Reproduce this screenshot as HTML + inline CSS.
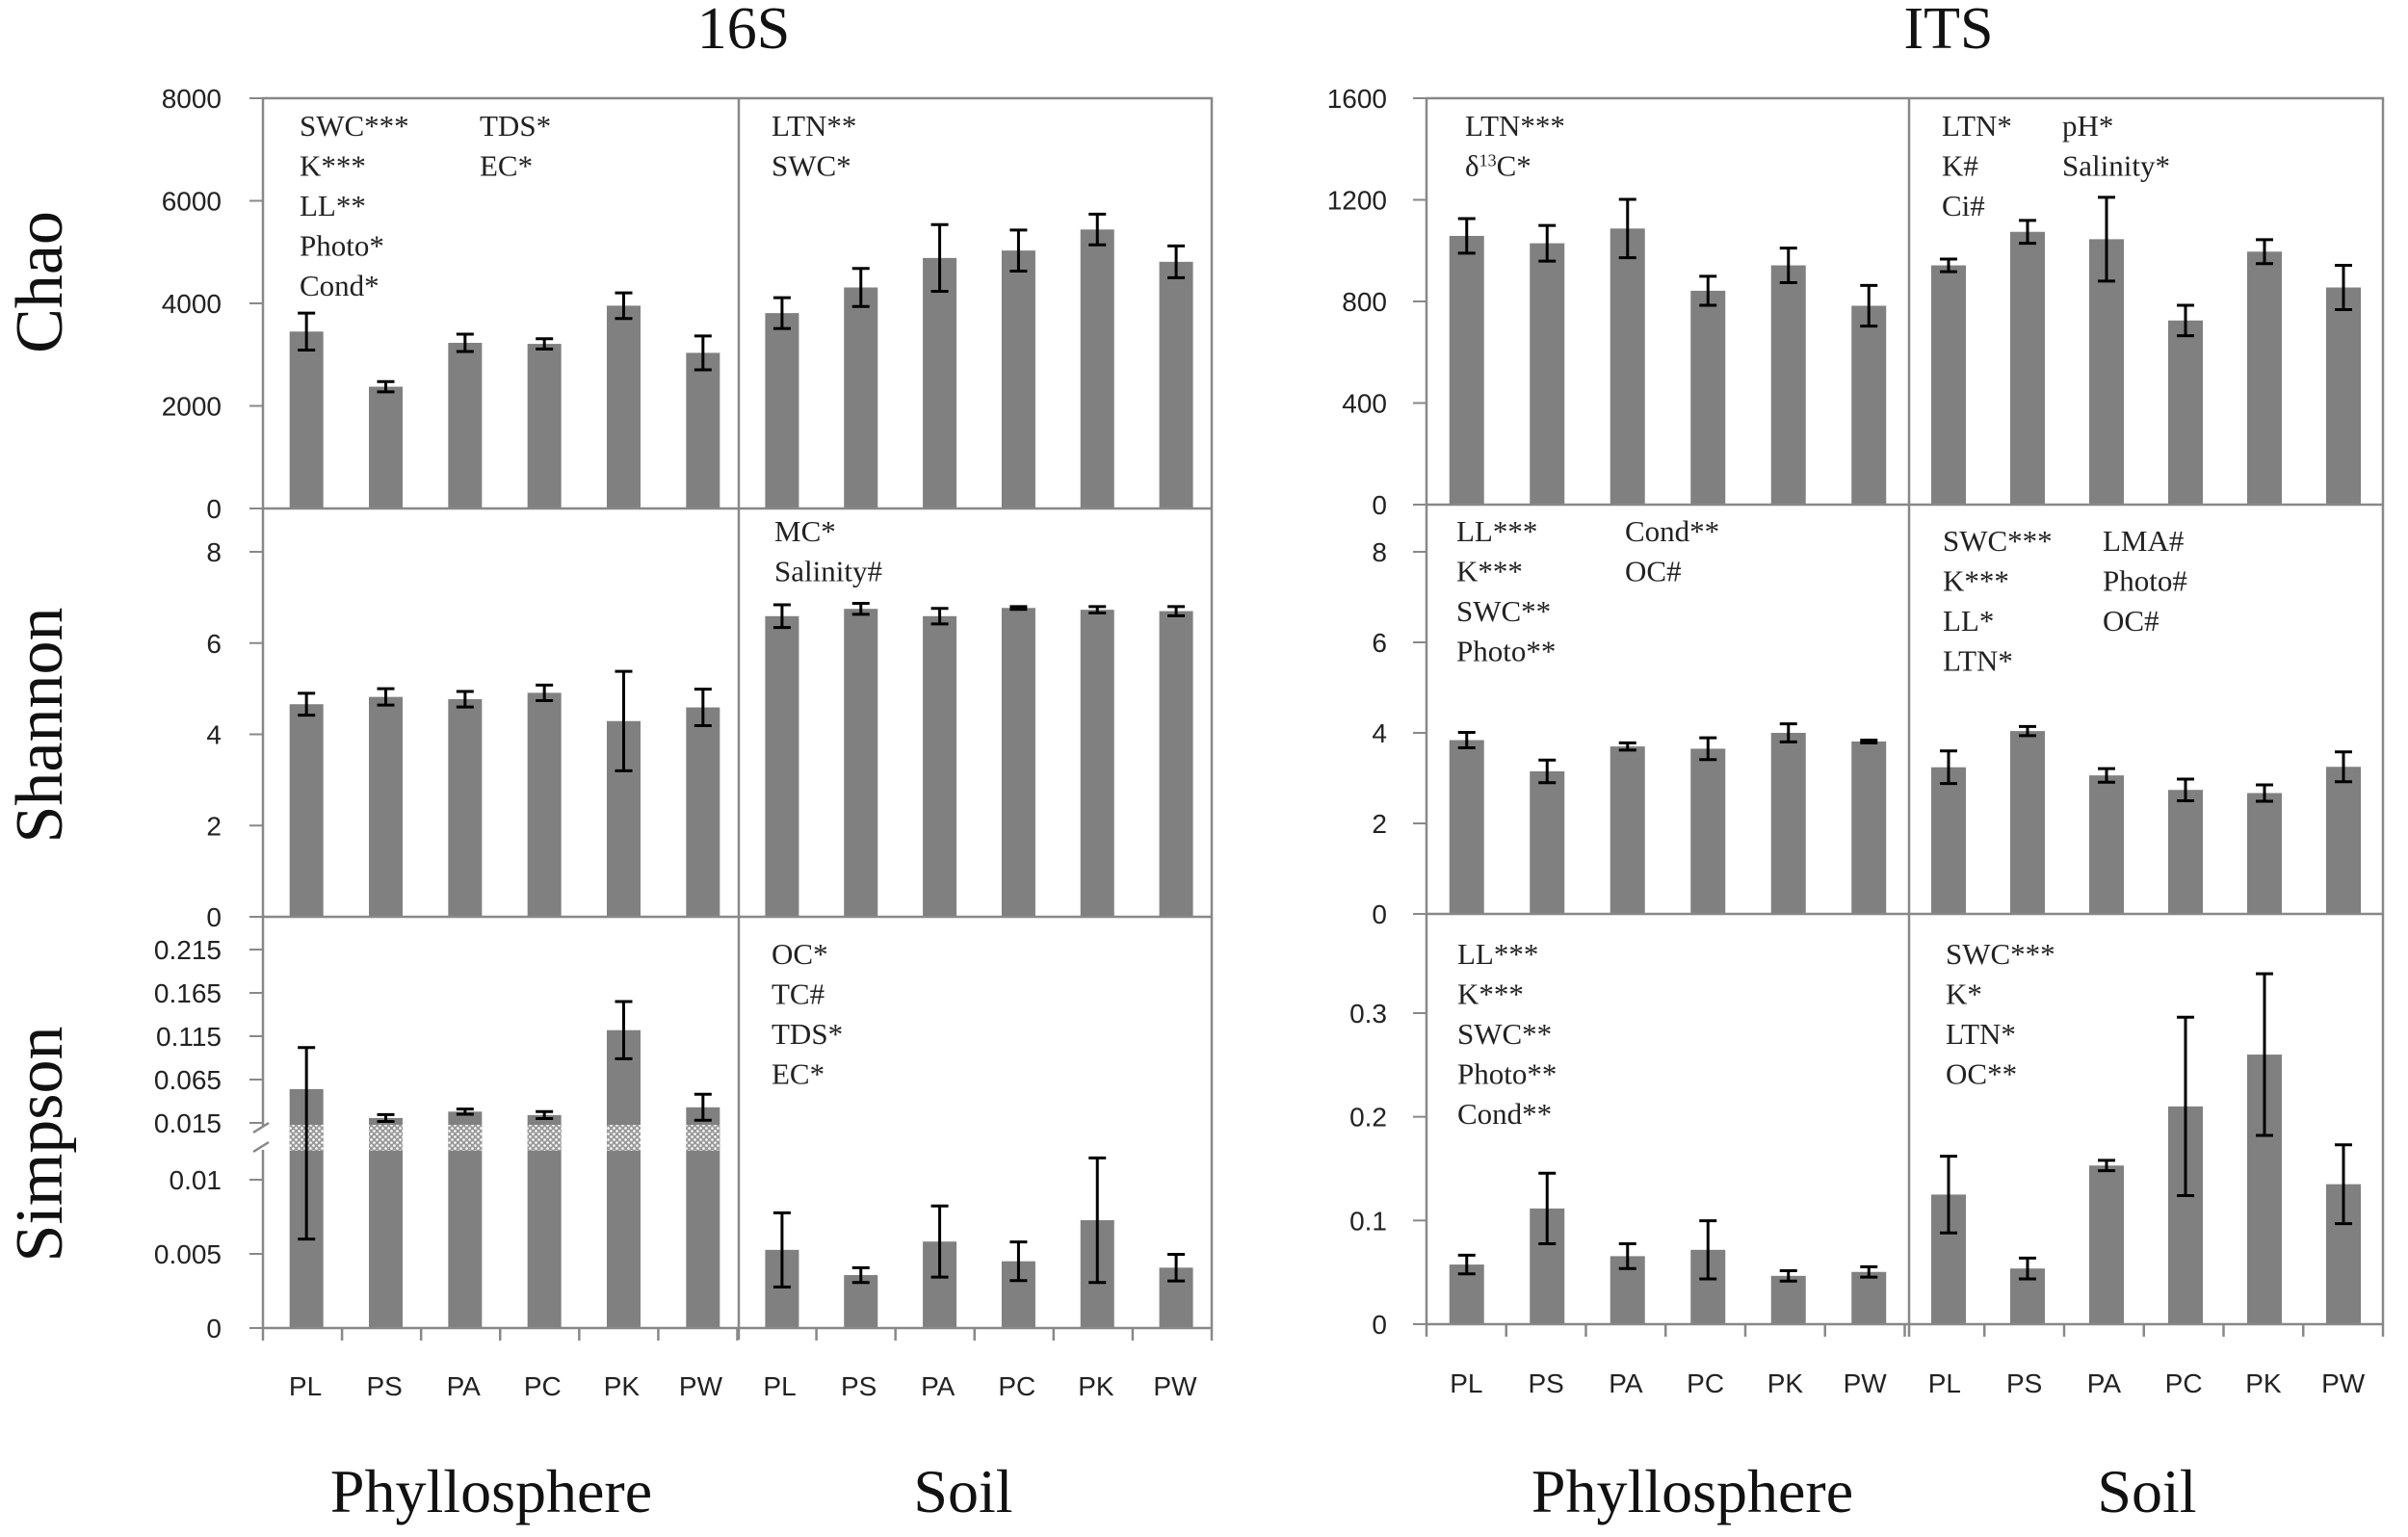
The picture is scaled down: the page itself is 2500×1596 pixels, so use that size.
<!DOCTYPE html>
<html><head><meta charset="utf-8">
<style>
html,body{margin:0;padding:0;background:#fff;}
svg{display:block;}
.tk{font-family:"Liberation Sans",sans-serif;font-size:28px;fill:#222;}
.an{font-family:"Liberation Serif",serif;font-size:31px;fill:#222;}
.big{font-family:"Liberation Serif",serif;fill:#111;}
</style></head>
<body>
<svg id="chart" width="2500" height="1596" viewBox="0 0 2500 1596" xmlns="http://www.w3.org/2000/svg">
<defs>
<pattern id="hatch" width="6" height="6" patternUnits="userSpaceOnUse">
<rect width="6" height="6" fill="#9a9a9a"/>
<circle cx="1.5" cy="1.5" r="1.3" fill="#ffffff"/>
<circle cx="4.5" cy="4.5" r="1.3" fill="#ffffff"/>
</pattern>
</defs>
<g id="root"></g>
</svg>
<script>
const categories = ["PL","PS","PA","PC","PK","PW"];
// 16S
const chao16Phyllo = [3450,2375,3230,3210,3955,3035];
const chao16PhylloErr = [360,100,170,100,250,330];
const chao16Soil = [3810,4310,4885,5030,5440,4810];
const chao16SoilErr = [300,370,650,400,300,310];
const shan16Phyllo = [4.66,4.82,4.77,4.91,4.29,4.59];
const shan16PhylloErr = [0.24,0.18,0.17,0.17,1.09,0.4];
const shan16Soil = [6.59,6.75,6.59,6.77,6.73,6.70];
const shan16SoilErr = [0.25,0.12,0.17,0.03,0.07,0.1];
const simp16Phyllo = [0.054,0.0206,0.028,0.024,0.122,0.033];
const simp16PhylloErr = [0.048,0.004,0.003,0.004,0.033,0.015];
const simp16Soil = [0.00527,0.00357,0.00583,0.0045,0.00727,0.00407];
const simp16SoilErr = [0.0025,0.0005,0.0024,0.0013,0.0042,0.0009];
// ITS
const chaoITSPhyllo = [1058,1029,1087,842,942,783];
const chaoITSPhylloErr = [68,70,115,57,68,80];
const chaoITSSoil = [942,1074,1045,725,996,855];
const chaoITSSoilErr = [25,45,165,60,47,87];
const shanITSPhyllo = [3.84,3.15,3.7,3.65,4.0,3.81];
const shanITSPhylloErr = [0.17,0.25,0.08,0.24,0.2,0.03];
const shanITSSoil = [3.24,4.04,3.06,2.74,2.67,3.25];
const shanITSSoilErr = [0.36,0.1,0.15,0.24,0.18,0.33];
const simpITSPhyllo = [0.0575,0.1116,0.0656,0.0717,0.0466,0.0504];
const simpITSPhylloErr = [0.009,0.034,0.012,0.028,0.005,0.005];
const simpITSSoil = [0.125,0.0537,0.153,0.21,0.26,0.135];
const simpITSSoilErr = [0.037,0.01,0.005,0.086,0.078,0.038];
// tick labels
const chao16Ticks = [0,2000,4000,6000,8000];
const shanTicks = [0,2,4,6,8];
const simp16UpperTicks = ["0.015","0.065","0.115","0.165","0.215"];
const simp16LowerTicks = ["0","0.005","0.01"];
const chaoITSTicks = [0,400,800,1200,1600];
const simpITSTicks = ["0","0.1","0.2","0.3"];

const NS="http://www.w3.org/2000/svg";
const root=document.getElementById('root');
function mk(tag,attrs,parent){const e=document.createElementNS(NS,tag);for(const k in attrs)e.setAttribute(k,attrs[k]);(parent||root).appendChild(e);return e;}

function lin(v0,y0,v1,y1){return v=>y0+(v-v0)*(y1-y0)/(v1-v0);}
function simp16Y(v){return v<=0.0125 ? 1379 - v*15400 : 1166 - (v-0.015)*900;}

function drawBars(x0,pw,off,bw,vals,errs,yf,yZero,hatch,prefix){
  const gw=pw/6;
  for(let i=0;i<vals.length;i++){
    const cx=x0+gw*(i+0.5)+off;
    const yt=yf(vals[i]);
    const b=mk('rect',{x:cx-bw/2,y:yt,width:bw,height:yZero-yt,fill:'#808080'});
    
    
    if(hatch){
      const h=mk('rect',{x:cx-bw/2,y:1168,width:bw,height:27,fill:'url(#hatch)'});
      
      
    }
    const yh=yf(vals[i]+errs[i]), yl=yf(Math.max(0,vals[i]-errs[i]));
    const g=mk('g',{stroke:'#000','stroke-width':3});
    
    
    mk('line',{x1:cx,y1:yh,x2:cx,y2:yl},g);
    mk('line',{x1:cx-9,y1:yh,x2:cx+9,y2:yh},g);
    mk('line',{x1:cx-9,y1:yl,x2:cx+9,y2:yl},g);
  }
}
function yTicks(axX,labels,yf,labelX){
  labels.forEach(l=>{
    const y=yf(parseFloat(l));
    mk('line',{x1:axX-14,y1:y,x2:axX,y2:y,stroke:'#888','stroke-width':2});
    const t=mk('text',{x:labelX,y:y+10,'text-anchor':'end',class:'tk'});
    t.textContent=l;
    
    
  });
}
function annot(x,y,lines){
  lines.forEach((s,i)=>{
    const t=mk('text',{x:x,y:y+i*41.5,class:'an'});
    t.textContent=s;
    
    
  });
}
function bigText(x,y,s,size,name,rot){
  const t=mk('text',{x:x,y:y,'text-anchor':'middle',class:'big','font-size':size});
  if(rot){t.setAttribute('transform','rotate(-90 '+x+' '+y+')');}
  t.textContent=s;
  
  
}

// ================= 16S =================
(function(){
  const L=273,M=767,R=1258,pw=494;
  const chY=lin(0,528,8000,102), shY=lin(0,952,8,573);
  drawBars(L,pw,4,35,chao16Phyllo,chao16PhylloErr,chY,528,false,'16s-chao-phyllo');
  drawBars(M,pw-3,4,35,chao16Soil,chao16SoilErr,chY,528,false,'16s-chao-soil');
  drawBars(L,pw,4,35,shan16Phyllo,shan16PhylloErr,shY,952,false,'16s-shannon-phyllo');
  drawBars(M,pw-3,4,35,shan16Soil,shan16SoilErr,shY,952,false,'16s-shannon-soil');
  drawBars(L,pw,4,35,simp16Phyllo,simp16PhylloErr,simp16Y,1379,true,'16s-simpson-phyllo');
  drawBars(M,pw-3,4,35,simp16Soil,simp16SoilErr,simp16Y,1379,false,'16s-simpson-soil');
  const fr=mk('g',{stroke:'#888','stroke-width':2.5,fill:'none'});
  
  
  mk('polyline',{points:`${L},1379 ${L},102 ${R},102 ${R},1379`},fr);
  mk('line',{x1:M,y1:102,x2:M,y2:1391},fr);
  mk('line',{x1:L,y1:528,x2:R,y2:528},fr);
  mk('line',{x1:L,y1:952,x2:R,y2:952},fr);
  mk('line',{x1:L,y1:1379,x2:R,y2:1379},fr);
  for(let i=0;i<=12;i++){const x=L+(R-L)*i/12;mk('line',{x1:x,y1:1379,x2:x,y2:1392},fr);}
  mk('rect',{x:L-8,y:1170,width:16,height:24,fill:'#fff',stroke:'none'});
  mk('line',{x1:L-10,y1:1176,x2:L+6,y2:1166,stroke:'#888','stroke-width':2.5});
  mk('line',{x1:L-10,y1:1196,x2:L+6,y2:1186,stroke:'#888','stroke-width':2.5});
  yTicks(L,chao16Ticks.map(String),chY,230);
  yTicks(L,shanTicks.map(String),shY,230);
  yTicks(L,simp16UpperTicks,simp16Y,230);
  yTicks(L,simp16LowerTicks,simp16Y,230);
  categories.concat(categories).forEach((c,i)=>{
    const t=mk('text',{x:L+(R-L)*(i+0.5)/12+3,y:1449,'text-anchor':'middle',class:'tk','font-size':37});
    t.textContent=c;
    
    
  });
  annot(311,141,["SWC***","K***","LL**","Photo*","Cond*"]);
  annot(498,141,["TDS*","EC*"]);
  annot(801,141,["LTN**","SWC*"]);
  annot(804,562,["MC*","Salinity#"]);
  annot(801,1001,["OC*","TC#","TDS*","EC*"]);
  bigText(772,50,"16S",62,'title-16s');
  bigText(510,1570,"Phyllosphere",64,'x-group-phyllosphere-16s');
  bigText(1000,1570,"Soil",64,'x-group-soil-16s');
  bigText(64,293,"Chao",70,'y-axis-title-chao',true);
  bigText(64,753,"Shannon",70,'y-axis-title-shannon',true);
  bigText(64,1188,"Simpson",70,'y-axis-title-simpson',true);
})();

// ================= ITS =================
(function(){
  const L=1481,M=1982,R=2474,pw=501;
  const chY=lin(0,524,1600,102), shY=lin(0,949,8,573), siY=lin(0,1375,0.3,1052);
  drawBars(L,pw,0,36,chaoITSPhyllo,chaoITSPhylloErr,chY,524,false,'its-chao-phyllo');
  drawBars(M,R-M,0,36,chaoITSSoil,chaoITSSoilErr,chY,524,false,'its-chao-soil');
  drawBars(L,pw,0,36,shanITSPhyllo,shanITSPhylloErr,shY,949,false,'its-shannon-phyllo');
  drawBars(M,R-M,0,36,shanITSSoil,shanITSSoilErr,shY,949,false,'its-shannon-soil');
  drawBars(L,pw,0,36,simpITSPhyllo,simpITSPhylloErr,siY,1375,false,'its-simpson-phyllo');
  drawBars(M,R-M,0,36,simpITSSoil,simpITSSoilErr,siY,1375,false,'its-simpson-soil');
  const fr=mk('g',{stroke:'#888','stroke-width':2.5,fill:'none'});
  
  
  mk('polyline',{points:`${L},1375 ${L},102 ${R},102 ${R},1375`},fr);
  mk('line',{x1:M,y1:102,x2:M,y2:1388},fr);
  mk('line',{x1:L,y1:524,x2:R,y2:524},fr);
  mk('line',{x1:L,y1:949,x2:R,y2:949},fr);
  mk('line',{x1:L,y1:1375,x2:R,y2:1375},fr);
  for(let i=0;i<=12;i++){const x=L+(R-L)*i/12;mk('line',{x1:x,y1:1375,x2:x,y2:1388},fr);}
  yTicks(L,chaoITSTicks.map(String),chY,1440);
  yTicks(L,shanTicks.map(String),shY,1440);
  yTicks(L,simpITSTicks,siY,1440);
  categories.concat(categories).forEach((c,i)=>{
    const t=mk('text',{x:L+(R-L)*(i+0.5)/12,y:1446,'text-anchor':'middle',class:'tk','font-size':37});
    t.textContent=c;
    
    
  });
  annot(1521,141,["LTN***"]);
  const d=mk('text',{x:1521,y:182.5,class:'an'});
  d.innerHTML='δ<tspan font-size="18" dy="-10">13</tspan><tspan dy="10">C*</tspan>';
  
  
  annot(2016,141,["LTN*","K#","Ci#"]);
  annot(2141,141,["pH*","Salinity*"]);
  annot(1512,562,["LL***","K***","SWC**","Photo**"]);
  annot(1687,562,["Cond**","OC#"]);
  annot(2017,572,["SWC***","K***","LL*","LTN*"]);
  annot(2183,572,["LMA#","Photo#","OC#"]);
  annot(1513,1001,["LL***","K***","SWC**","Photo**","Cond**"]);
  annot(2020,1001,["SWC***","K*","LTN*","OC**"]);
  bigText(2023,50,"ITS",62,'title-its');
  bigText(1757,1570,"Phyllosphere",64,'x-group-phyllosphere-its');
  bigText(2229,1570,"Soil",64,'x-group-soil-its');
})();
</script>
</body></html>
